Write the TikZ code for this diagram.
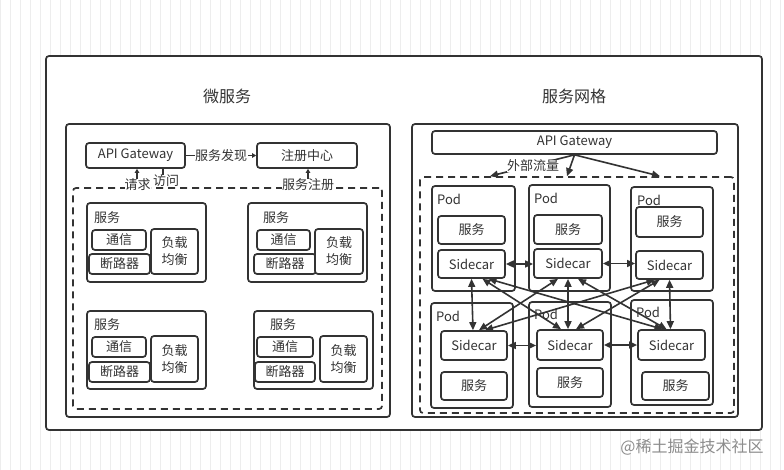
\documentclass[tikz,border=0pt]{standalone}
\usepackage{fontspec}
\setmainfont{Noto Sans CJK SC}
\usetikzlibrary{arrows.meta}
\definecolor{ink}{HTML}{333333}
\tikzset{
  box/.style={draw=ink, line width=1.7pt, rounded corners=3pt, fill=white, inner sep=0pt},
  dbox/.style={draw=ink, line width=1.7pt, rounded corners=3pt, dash pattern=on 7pt off 5pt, inner sep=0pt},
  txt/.style={text=ink, font=\fontsize{13}{14}\selectfont, inner sep=1pt},
  ttl/.style={text=ink, font=\fontsize{16}{18}\selectfont},
  conn/.style={draw=ink, line width=1.6pt},
  small/.style={conn, -{Triangle[length=4pt,width=4.5pt]}},
  big/.style={conn, -{Triangle[length=8pt,width=7pt]}},
  both/.style={conn, {Triangle[length=8pt,width=7pt]}-{Triangle[length=8pt,width=7pt]}},
}
% \mybox[opts]{name}{x1}{y1}{x2}{y2}{text}
\newcommand\mybox[7][]{\node[box,txt,#1,minimum width={(#5)-(#3)},minimum height={(#6)-(#4)}] (#2) at ({((#3)+(#5))/2},{((#4)+(#6))/2}) {#7};}
\newcommand\mydbox[5]{\node[dbox,minimum width={(#4)-(#2)},minimum height={(#5)-(#3)}] (#1) at ({((#2)+(#4))/2},{((#3)+(#5))/2}) {};}
\begin{document}
\begin{tikzpicture}[x=1pt,y=-1pt]
\useasboundingbox (0,0) rectangle (784,470);
\fill[white] (0,0) rectangle (784,470);
\draw[black!7, line width=0.6pt, step=10] (0,0) grid (784,470);
% outer
\mybox{outer}{46}{56}{762}{430}{}
\node[ttl] (t1) at (227,96) {微服务};
\node[ttl] (t2) at (574,96) {服务网格};
% ---------- left panel ----------
\mybox{lp}{66}{124}{390}{417}{}
\mybox{gw1}{86}{143}{185}{168}{API Gateway}
\mybox{reg}{257}{143}{357}{168}{注册中心}
\mydbox{dash1}{73}{188}{382}{409}
\draw[small] (gw1) -- node[txt, fill=white, inner sep=0.5pt] (lfx) {服务发现} (reg);
\draw[small] (137,0 |- dash1.north) -- (137,0 |- gw1.south);
\node[txt, fill=white, inner sep=0pt] (lqq) at (137.5,185) {请求};
\draw[small] (163,0 |- gw1.south) -- (163,0 |- dash1.north);
\node[txt, fill=white, inner sep=0pt] (lfw) at (166,181) {访问};
\draw[small] (308,0 |- dash1.north) -- (308,0 |- reg.south);
\node[txt, fill=white, inner sep=0pt] (lzc) at (308,185) {服务注册};
% service 1
\mybox{s1}{87}{203}{206}{282}{}
\node[txt, anchor=west] (s1l) at (93,218) {服务};
\mybox{s1a}{92}{230}{146}{250}{通信}
\mybox{s1b}{89}{254}{150}{274}{断路器}
\mybox[align=center]{s1c}{151}{229}{198}{274}{负载\\[3pt]均衡}
% service 2
\mybox{s2}{248}{203}{367}{282}{}
\node[txt, anchor=west] (s2l) at (262,218) {服务};
\mybox{s2a}{257}{230}{310}{250}{通信}
\mybox{s2b}{254}{254}{316}{274}{断路器}
\mybox[align=center]{s2c}{315}{229}{363}{274}{负载\\[3pt]均衡}
% service 3
\mybox{s3}{87}{311}{206}{389}{}
\node[txt, anchor=west] (s3l) at (93,325) {服务};
\mybox{s3a}{92}{337}{146}{357}{通信}
\mybox{s3b}{89}{362}{150}{382}{断路器}
\mybox[align=center]{s3c}{151}{336}{198}{382}{负载\\[3pt]均衡}
% service 4
\mybox{s4}{254}{311}{373}{389}{}
\node[txt, anchor=west] (s4l) at (269,325) {服务};
\mybox{s4a}{257}{337}{313}{357}{通信}
\mybox{s4b}{255}{362}{315}{382}{断路器}
\mybox[align=center]{s4c}{320}{336}{367}{382}{负载\\[3pt]均衡}
% ---------- right panel ----------
\mybox{rp}{412}{124}{738}{417}{}
\mybox{gw2}{432}{131}{717}{154}{API Gateway}
\mydbox{dash2}{420}{177}{734}{413}
% pods top
\mybox{p1}{432}{186}{515}{291}{}
\node[txt, anchor=west] (p1l) at (436,199) {Pod};
\mybox{v1}{438}{216}{505}{244}{服务}
\mybox{sc1}{438}{250}{505}{278}{Sidecar}
\mybox{p2}{529}{185}{610}{291}{}
\node[txt, anchor=west] (p2l) at (533,198) {Pod};
\mybox{v2}{534}{215}{602}{244}{服务}
\mybox{sc2}{534}{249}{602}{278}{Sidecar}
\mybox{p3}{631}{187}{713}{291}{}
\node[txt, anchor=west] (p3l) at (636,200) {Pod};
\mybox{v3}{636}{207}{703}{237}{服务}
\mybox{sc3}{636}{251}{703}{279}{Sidecar}
% pods bottom
\mybox{p4}{431}{303}{513}{408}{}
\node[txt, anchor=west] (p4l) at (435,316) {Pod};
\mybox{sc4}{441}{331}{507}{360}{Sidecar}
\mybox{v4}{441}{372}{507}{400}{服务}
\mybox{p5}{529}{302}{611}{407}{}
\node[txt, anchor=west] (p5l) at (533,314) {Pod};
\mybox{sc5}{537}{330}{603}{360}{Sidecar}
\mybox{v5}{537}{368}{603}{397}{服务}
\mybox{p6}{631}{300}{713}{405}{}
\node[txt, anchor=west] (p6l) at (635,312) {Pod};
\mybox{sc6}{638}{330}{705}{360}{Sidecar}
\mybox{v6}{642}{372}{709}{400}{服务}
% gateway arrows
\draw[big] (gw2.south) -- (490,0 |- dash2.north);
\draw[big] (gw2.south) -- (567,0 |- dash2.north);
\draw[big] (gw2.south) -- (660,0 |- dash2.north);
\node[txt, fill=white, inner sep=0pt] (wbl) at (533,166) {外部流量};
% horizontal sidecar links
\draw[both] (sc1.east) -- (sc1.east -| sc2.west);
\draw[both] (sc2.east) -- (sc2.east -| sc3.west);
\draw[both] (sc4.east) -- (sc4.east -| sc5.west);
\draw[both] (sc5.east) -- (sc5.east -| sc6.west);
% mesh
\draw[both] ([xshift=0pt]sc1.south) -- ([xshift=-1pt]sc4.north);
\draw[both] ([xshift=11pt]sc1.south) -- ([xshift=-9pt]sc5.north);
\draw[both] ([xshift=17pt]sc1.south) -- ([xshift=-9pt]sc6.north);
\draw[both] ([xshift=-10pt]sc2.south) -- ([xshift=5pt]sc4.north);
\draw[both] ([xshift=0pt]sc2.south) -- ([xshift=-2pt]sc5.north);
\draw[both] ([xshift=10pt]sc2.south) -- ([xshift=-5pt]sc6.north);
\draw[both] ([xshift=-15pt]sc3.south) -- ([xshift=11pt]sc4.north);
\draw[both] ([xshift=-10pt]sc3.south) -- ([xshift=6pt]sc5.north);
\draw[both] ([xshift=0pt]sc3.south) -- ([xshift=-1pt]sc6.north);
% watermark
\node[text=black!45, font=\fontsize{16}{18}\selectfont] (wm) at (692,447) {@稀土掘金技术社区};
\end{tikzpicture}
\end{document}
